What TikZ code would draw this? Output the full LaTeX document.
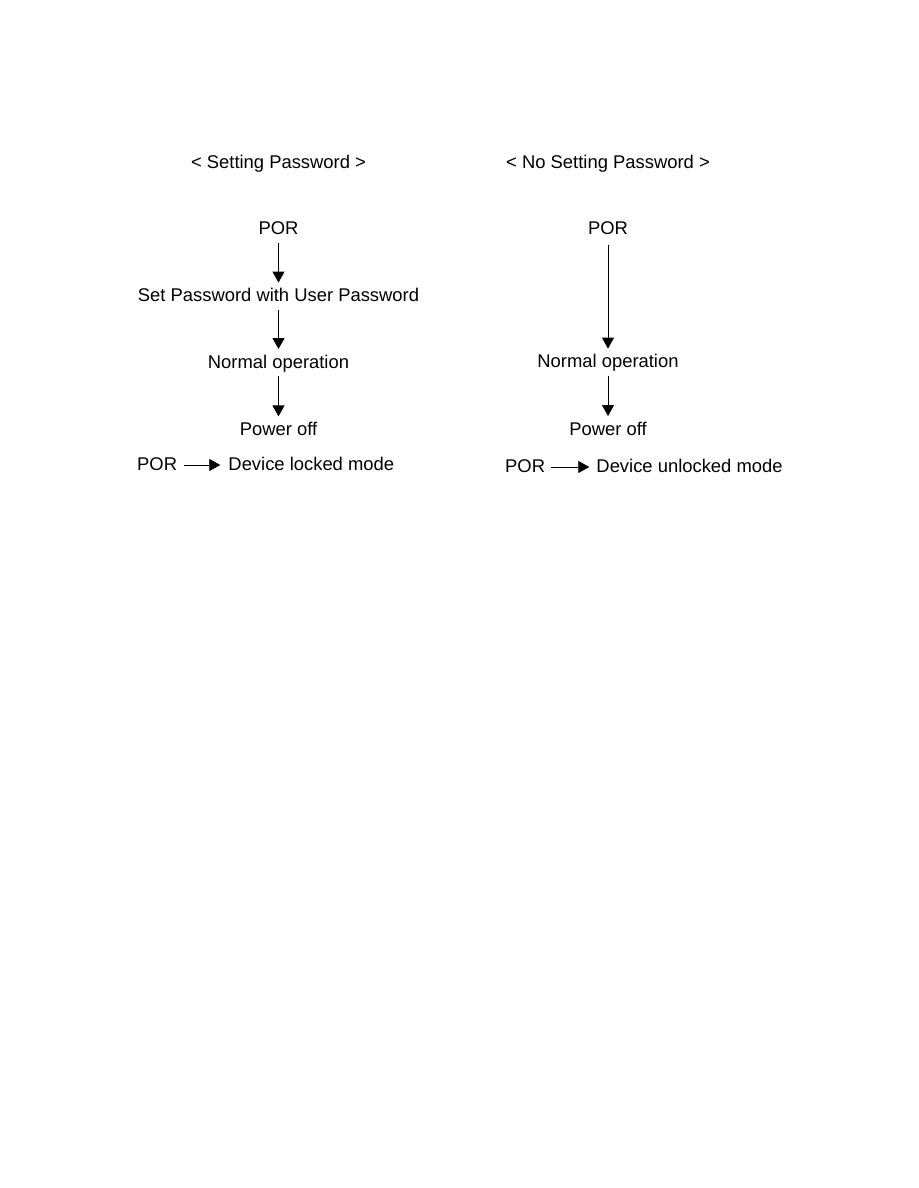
\documentclass[tikz,border=0pt]{standalone}
\usepackage{fontspec}
\setmainfont{Liberation Sans}
\usetikzlibrary{arrows.meta, positioning}

\begin{document}
\begin{tikzpicture}[
    x=1pt, y=-1pt,
    >={Triangle[width=12pt, length=11pt]},
    lbl/.style={inner sep=0pt, text height=13pt, text depth=3pt,
                font=\fontsize{18.4}{20}\selectfont},
    flow/.style={->, line width=0.8pt, shorten <=5pt, shorten >=6pt}
  ]
  \useasboundingbox (0,0) rectangle (918,1188);

  % Setting password
  \node[lbl] (ltitle) at (278.5,163) {< Setting Password >};
  \node[lbl, below=50pt of ltitle] (lpor) {POR};
  \node[lbl, below=51pt of lpor] (lset) {Set Password with User Password};
  \node[lbl, below=50pt of lset] (lnorm) {Normal operation};
  \node[lbl, below=51pt of lnorm] (loff) {Power off};
  \draw[flow] (lpor) -- (lset);
  \draw[flow] (lset) -- (lnorm);
  \draw[flow] (lnorm) -- (loff);

  % After power on again
  \node[lbl, anchor=west] (lpor2) at (137,465) {POR};
  \node[lbl, right=51pt of lpor2] (llock) {Device locked mode};
  \draw[flow, shorten <=7pt, shorten >=8pt] (lpor2) -- (llock);

  % No setting password
  \node[lbl] (rtitle) at (608,163) {< No Setting Password >};
  \node[lbl, below=50pt of rtitle] (rpor) {POR};
  \node[lbl, below=117pt of rpor] (rnorm) {Normal operation};
  \node[lbl, below=51pt of rnorm] (roff) {Power off};
  \draw[flow, shorten <=7pt] (rpor) -- (rnorm);
  \draw[flow] (rnorm) -- (roff);

  % After power on again
  \node[lbl, anchor=west] (rpor2) at (505,467) {POR};
  \node[lbl, right=51pt of rpor2] (runlock) {Device unlocked mode};
  \draw[flow, shorten <=6pt, shorten >=7pt] (rpor2) -- (runlock);
\end{tikzpicture}
\end{document}
